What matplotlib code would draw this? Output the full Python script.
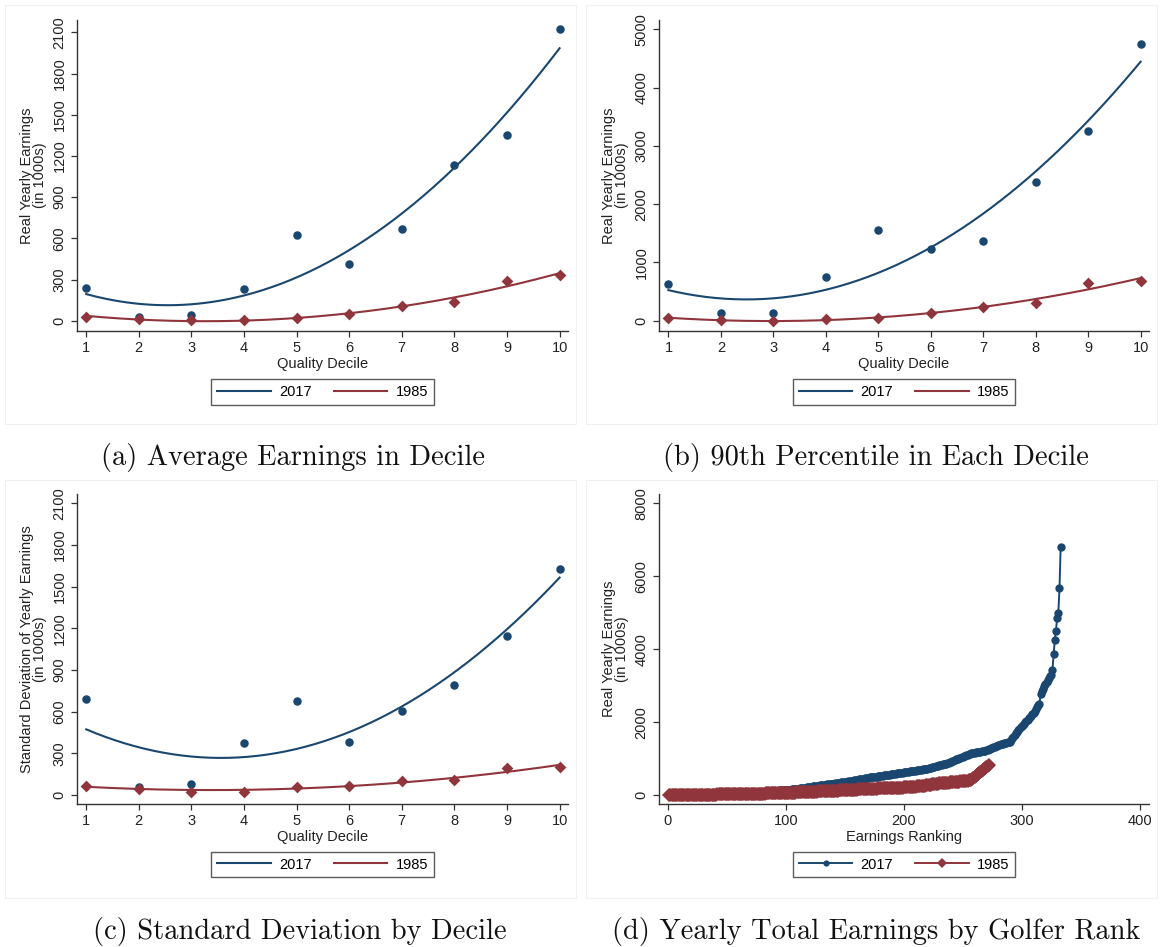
import numpy as np
import matplotlib.pyplot as plt
from matplotlib.patches import Rectangle

plt.rcParams['font.family'] = ['Liberation Sans', 'DejaVu Sans']

navy = '#1a476f'
maroon = '#90353b'

deciles = [1, 2, 3, 4, 5, 6, 7, 8, 9, 10]

# (a) average earnings in decile (1000s)
avg_2017 = [235, 29, 41, 228, 621, 415, 665, 1136, 1352, 2122]
avg_1985 = [29, 10, 5, 5, 22, 46, 107, 138, 289, 335]

# (b) 90th percentile in each decile
p90_2017 = [629, 126, 126, 744, 1556, 1230, 1373, 2374, 3261, 4754]
p90_1985 = [40, 15, 0, 29, 40, 126, 240, 297, 652, 686]

# (c) standard deviation by decile
sd_2017 = [689, 60, 77, 372, 679, 379, 607, 792, 1147, 1627]
sd_1985 = [67, 45, 24, 24, 55, 65, 98, 110, 194, 199]

# (d) yearly earnings by golfer rank
rank_2017 = [
    1, 2, 2, 3, 5, 6, 6, 7, 9, 10,
    11, 12, 12, 14, 15, 16, 17, 18, 19, 20,
    21, 22, 23, 23, 25, 26, 27, 28, 28, 30,
    31, 32, 33, 34, 35, 36, 36, 38, 39, 40,
    41, 42, 43, 44, 45, 46, 47, 48, 49, 50,
    51, 52, 54, 55, 56, 58, 59, 60, 62, 63,
    64, 66, 67, 68, 70, 71, 72, 73, 75, 76,
    77, 79, 80, 82, 83, 85, 86, 88, 90, 92,
    94, 96, 98, 100, 103, 105, 107, 109, 112, 114,
    116, 118, 120, 122, 124, 126, 128, 130, 132, 135,
    139, 143, 147, 150, 154, 158, 162, 166, 170, 174,
    178, 183, 187, 192, 196, 201, 205, 210, 215, 220,
    225, 230, 238, 243, 248, 252, 256, 260, 264, 268,
    272, 276, 280, 284, 288, 292, 296, 300, 305, 310,
    315, 320, 325, 330, 335, 340, 344, 348, 352, 356,
    360, 366, 372, 378, 384, 390, 396, 402, 408, 414,
    420, 426, 432, 438, 444, 450, 456, 462, 468, 474,
    480, 484, 488, 492, 496, 500, 505, 510, 515, 520,
    525, 530, 535, 540, 545, 550, 555, 560, 565, 570,
    575, 580, 585, 590, 595, 600, 605, 610, 615, 620,
    625, 630, 635, 640, 645, 650, 655, 660, 665, 670,
    675, 680, 685, 690, 695, 700, 705, 710, 715, 722,
    728, 735, 745, 755, 765, 775, 785, 795, 805, 815,
    825, 832, 838, 845, 850, 855, 870, 885, 900, 915,
    930, 945, 960, 975, 990, 1000, 1010, 1020, 1030, 1045,
    1060, 1075, 1090, 1105, 1120, 1135, 1145, 1150, 1160, 1165,
    1170, 1175, 1180, 1185, 1190, 1198, 1205, 1212, 1220, 1230,
    1243, 1256, 1270, 1283, 1296, 1310, 1325, 1340, 1355, 1370,
    1380, 1390, 1400, 1410, 1418, 1426, 1434, 1442, 1450, 1460,
    1500, 1550, 1600, 1650, 1700, 1740, 1780, 1820, 1860, 1900,
    1930, 1960, 1990, 2030, 2070, 2110, 2150, 2180, 2210, 2240,
    2300, 2360, 2420, 2470, 2490, 2780, 2850, 2920, 2990, 3050,
    3100, 3150, 3200, 3250, 3290, 3430, 3860, 4250, 4510, 4860,
    4990, 5670, 6810,
]
rank_1985 = [
    0, 0, 1, 1, 1, 1, 2, 2, 2, 2,
    3, 3, 3, 3, 4, 4, 4, 4, 5, 5,
    5, 6, 6, 6, 7, 7, 7, 8, 8, 8,
    9, 9, 10, 10, 10, 11, 11, 12, 12, 13,
    13, 14, 14, 15, 15, 16, 16, 17, 17, 18,
    18, 19, 19, 20, 21, 21, 22, 22, 23, 24,
    24, 25, 26, 26, 27, 28, 28, 29, 30, 31,
    31, 32, 33, 34, 34, 35, 36, 37, 38, 38,
    39, 40, 41, 42, 42, 43, 44, 45, 46, 47,
    48, 49, 50, 51, 52, 53, 54, 55, 56, 58,
    59, 60, 62, 63, 64, 66, 67, 68, 70, 71,
    72, 74, 75, 77, 78, 79, 81, 82, 84, 85,
    87, 88, 90, 91, 93, 94, 96, 97, 99, 100,
    102, 103, 105, 106, 108, 109, 111, 112, 114, 115,
    117, 119, 120, 122, 124, 126, 128, 130, 132, 134,
    137, 138, 140, 141, 143, 144, 146, 147, 149, 150,
    152, 153, 154, 156, 157, 158, 160, 161, 163, 165,
    167, 169, 171, 173, 174, 176, 178, 179, 181, 182,
    184, 185, 187, 188, 189, 191, 192, 194, 195, 196,
    197, 198, 199, 200, 201, 202, 203, 204, 205, 206,
    208, 210, 212, 215, 217, 220, 222, 225, 228, 231,
    234, 237, 240, 244, 248, 252, 256, 260, 264, 268,
    274, 279, 284, 289, 294, 299, 304, 309, 313, 317,
    320, 323, 326, 329, 332, 335, 338, 341, 344, 347,
    350, 353, 356, 359, 362, 365, 368, 371, 374, 377,
    380, 385, 390, 395, 400, 405, 411, 430, 460, 490,
    518, 546, 574, 602, 630, 658, 686, 714, 742, 770,
    800, 830,
]

W, H = 1162, 947
fig = plt.figure(figsize=(W / 100, H / 100), dpi=100)


def px_axes(x0, y0, x1, y1):
    return fig.add_axes([x0 / W, 1 - y1 / H, (x1 - x0) / W, (y1 - y0) / H])


def style(ax):
    for s in ['top', 'right']:
        ax.spines[s].set_visible(False)
    for s in ['left', 'bottom']:
        ax.spines[s].set_color('#333333')
        ax.spines[s].set_linewidth(1.0)
    ax.tick_params(direction='out', length=4, width=0.9, colors='#333333',
                   labelsize=10.5, labelcolor='#222222')
    for lab in ax.get_yticklabels():
        lab.set_rotation(90)
        lab.set_va('center')


def legend(ax, markerscale=1.0):
    leg = ax.legend(loc='upper center', bbox_to_anchor=(0.5, -0.154), ncol=2,
                    frameon=True, fancybox=False, fontsize=10.5, handlelength=3.7,
                    columnspacing=1.5, handletextpad=0.55, borderpad=0.4,
                    borderaxespad=0, markerscale=markerscale)
    leg.get_frame().set_edgecolor('#333333')
    leg.get_frame().set_linewidth(1.0)


def decile_panel(rect, y17, y85, yticks, ylim, ylabel, xlim):
    ax = px_axes(*rect)
    x = np.array(deciles)
    xs = np.linspace(1, 10, 200)
    f17 = np.polyval(np.polyfit(x, y17, 2), xs)
    f85 = np.polyval(np.polyfit(x, y85, 2), xs)
    ax.scatter(x, y17, s=26, color=navy, zorder=3)
    ax.scatter(x, y85, s=36, marker='D', color=maroon, zorder=3, linewidths=0)
    ax.plot(xs, f17, color=navy, lw=1.5, label='2017', zorder=4)
    ax.plot(xs, f85, color=maroon, lw=1.5, label='1985', zorder=4)
    ax.set_xlim(*xlim)
    ax.set_ylim(*ylim)
    ax.set_xticks(deciles)
    ax.set_yticks(yticks)
    ax.set_xlabel('Quality Decile', fontsize=10.5, color='#222222', labelpad=1)
    ax.set_ylabel(ylabel, fontsize=10.5, color='#222222', labelpad=4,
                  linespacing=0.95)
    style(ax)
    legend(ax)
    return ax


decile_panel((77, 20, 568, 331), avg_2017, avg_1985, range(0, 2101, 300),
             (-75, 2190), 'Real Yearly Earnings\n(in 1000s)', (0.825, 10.16))
decile_panel((659, 20, 1149, 331), p90_2017, p90_1985, range(0, 5001, 1000),
             (-177, 5160), 'Real Yearly Earnings\n(in 1000s)', (0.82, 10.16))
decile_panel((77, 494, 568, 804), sd_2017, sd_1985, range(0, 2101, 300),
             (-65, 2167), 'Standard Deviation of Yearly Earnings\n(in 1000s)',
             (0.825, 10.16))

ax = px_axes(659, 494, 1149, 804)
r17 = np.arange(1, len(rank_2017) + 1)
r85 = np.arange(1, len(rank_1985) + 1)
ax.plot(r17, rank_2017, color=navy, lw=1.4, marker='o', ms=6, mew=0,
        label='2017', zorder=3)
ax.plot(r85, rank_1985, color=maroon, lw=1.4, marker='D', ms=6.8, mew=0,
        label='1985', zorder=4)
ax.set_xlim(-7.6, 407.9)
ax.set_ylim(-247, 8255)
ax.set_xticks(range(0, 401, 100))
ax.set_yticks(range(0, 8001, 2000))
ax.set_xlabel('Earnings Ranking', fontsize=10.5, color='#222222', labelpad=1)
ax.set_ylabel('Real Yearly Earnings\n(in 1000s)', fontsize=10.5,
              color='#222222', labelpad=4, linespacing=0.95)
style(ax)
legend(ax, markerscale=0.75)

# faint outer frames of each graph region
for (x0, y0, y1) in [(5, 5, 424), (586, 5, 424), (5, 480, 898), (586, 480, 898)]:
    fig.patches.append(Rectangle((x0 / W, 1 - y1 / H), 571 / W, (y1 - y0) / H,
                                 transform=fig.transFigure, fill=False,
                                 edgecolor='#f0f0f0', lw=0.8))

captions = [
    (293, 457, '(a) Average Earnings in Decile'),
    (876, 457, '(b) 90th Percentile in Each Decile'),
    (300, 931, '(c) Standard Deviation by Decile'),
    (876, 931, '(d) Yearly Total Earnings by Golfer Rank'),
]
for cx, cy, txt in captions:
    fig.text(cx / W, 1 - cy / H, txt, ha='center', va='center',
             family=['cmr10', 'DejaVu Serif'], fontsize=20.5, color='#111111')

fig.savefig('out.png', dpi=100, facecolor='white')
